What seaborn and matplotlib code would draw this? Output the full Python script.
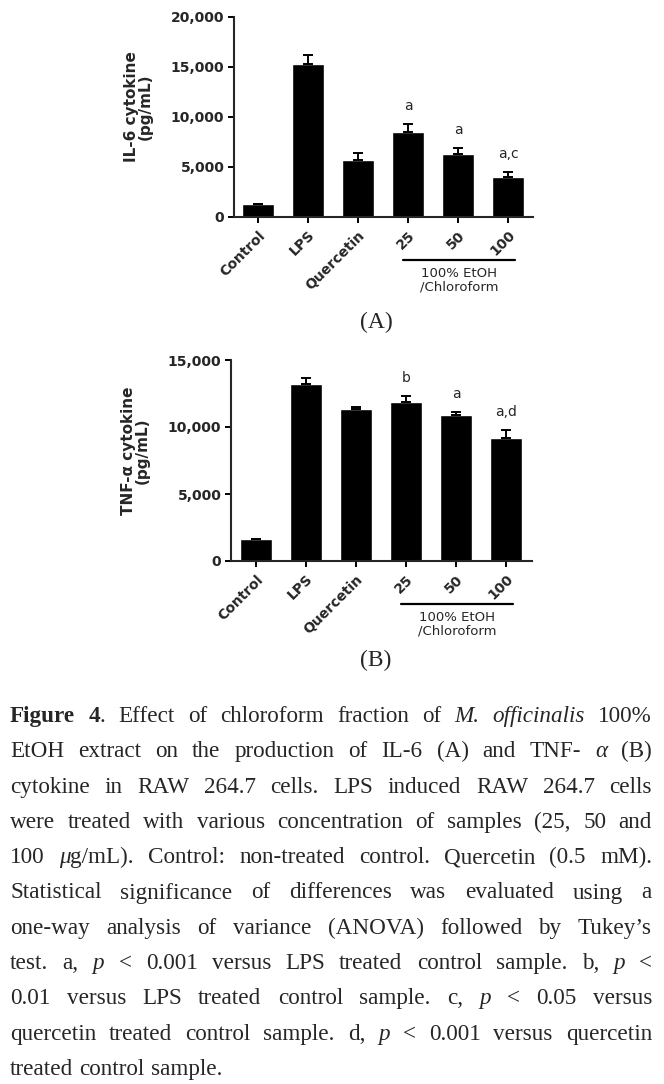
import re
import numpy as np
import pandas as pd
import matplotlib
matplotlib.use("Agg")
import matplotlib.pyplot as plt
import matplotlib.transforms as mtransforms
from matplotlib.ticker import FuncFormatter
import seaborn as sns

# values (mean and upper error bar)
groups = ["Control", "LPS", "Quercetin", "25", "50", "100"]
il6_mean = [1270, 15350, 5700, 8550, 6280, 3990]
il6_err = [60, 900, 750, 730, 600, 500]
il6_marks = ["", "", "", "a", "a", "a,c"]
tnf_mean = [1620, 13200, 11310, 11840, 10860, 9150]
tnf_err = [40, 480, 200, 470, 280, 600]
tnf_marks = ["", "", "", "b", "a", "a,d"]
il6_ticks = [0, 5000, 10000, 15000, 20000]
tnf_ticks = [0, 5000, 10000, 15000]
group_label = "100% EtOH\n/Chloroform"

caption_lines = [
    "**Figure** **4**. Effect of chloroform fraction of *M.* *officinalis* 100%",
    "EtOH extract on the production of IL-6 (A) and TNF- *α* (B)",
    "cytokine in RAW 264.7 cells. LPS induced RAW 264.7 cells",
    "were treated with various concentration of samples (25, 50 and",
    "100 *μ*g/mL). Control: non-treated control. Quercetin (0.5 mM).",
    "Statistical significance of differences was evaluated using a",
    "one-way analysis of variance (ANOVA) followed by Tukey’s",
    "test. a, *p* < 0.001 versus LPS treated control sample. b, *p* <",
    "0.01 versus LPS treated control sample. c, *p* < 0.05 versus",
    "quercetin treated control sample. d, *p* < 0.001 versus quercetin",
    "treated control sample.",
]

sns.set_style("ticks")
plt.rcParams["font.family"] = ["DejaVu Sans"]

W, H = 664, 1084
fig = plt.figure(figsize=(W / 100, H / 100), dpi=100)


def panel(rect, means, errs, marks, ticks, ylabel, xlim, tag, tag_y):
    ax = fig.add_axes([rect[0] / W, 1 - rect[3] / H, (rect[1] - rect[0]) / W,
                       (rect[3] - rect[2]) / H])
    df = pd.DataFrame({"group": groups, "value": means})
    sns.barplot(data=df, x="group", y="value", color="black", saturation=1,
                width=0.65, errorbar=None, ax=ax)
    ax.errorbar(np.arange(len(groups)), means, yerr=[np.zeros(len(errs)), errs],
                fmt="none", ecolor="black", elinewidth=1.4, capsize=3.8, capthick=1.4)
    for i, m in enumerate(marks):
        if m:
            ax.annotate(m, (i, means[i] + errs[i]), xytext=(0, 10),
                        textcoords="offset points", ha="center", va="baseline",
                        fontsize=10)
    ax.set_ylim(ticks[0], ticks[-1])
    ax.set_yticks(ticks)
    ax.yaxis.set_major_formatter(FuncFormatter(lambda v, p: f"{int(v):,}"))
    ax.set_xlim(*xlim)
    ax.set_xticks(range(len(groups)))
    ax.set_xticklabels(groups, rotation=45, ha="right", rotation_mode="anchor")
    for lab in ax.get_xticklabels() + ax.get_yticklabels():
        lab.set_fontweight("bold")
        lab.set_fontsize(10)
    ax.tick_params(axis="both", length=4, width=1.4, color="black", pad=3)
    ax.tick_params(axis="x", pad=4)
    ax.set_xlabel("")
    ax.set_ylabel(ylabel, fontweight="bold", fontsize=11, linespacing=0.95)
    ax.yaxis.set_label_coords(-81 / (rect[1] - rect[0]), 0.55)
    sns.despine(ax=ax)
    for s in ["left", "bottom"]:
        ax.spines[s].set_linewidth(1.5)
    # bracket under the extract concentrations
    tr = mtransforms.blended_transform_factory(ax.transData, ax.transAxes)
    x0, x1 = 3 - 0.1, len(groups) - 1 + 0.14
    ax.plot([x0, x1], [-0.215, -0.215], color="black", lw=1.6,
            transform=tr, clip_on=False)
    ax.text((x0 + x1) / 2, -0.25, group_label, transform=tr, ha="center",
            va="top", fontsize=9.5, linespacing=1.05)
    fig.text(376 / W, 1 - tag_y / H, tag, ha="center", va="center",
             family="Liberation Serif", fontsize=17)
    return ax


panel((234, 533, 17, 217), il6_mean, il6_err, il6_marks, il6_ticks,
      "IL-6 cytokine\n(pg/mL)", (-0.48, 5.5), "(A)", 322)
panel((231, 532, 360, 561), tnf_mean, tnf_err, tnf_marks, tnf_ticks,
      "TNF-α cytokine\n(pg/mL)", (-0.5, 5.52), "(B)", 660)

# justified caption
styles = {"normal": dict(weight="normal", style="normal"),
          "bold": dict(weight="bold", style="normal"),
          "italic": dict(weight="normal", style="italic")}


def parse_word(w):
    runs = []
    for part in re.split(r"(\*\*[^*]+\*\*|\*[^*]+\*)", w):
        if not part:
            continue
        if part.startswith("**"):
            runs.append((part[2:-2], "bold"))
        elif part.startswith("*"):
            runs.append((part[1:-1], "italic"))
        else:
            runs.append((part, "normal"))
    return runs


renderer = fig.canvas.get_renderer()
left, right = 10, 652
base0, step = 722, 35.3
for li, line in enumerate(caption_lines):
    y = 1 - (base0 + li * step) / H
    words = []
    for w in line.split(" "):
        items = []
        for txt, st in parse_word(w):
            t = fig.text(0, y, txt, va="baseline", ha="left",
                         family="Liberation Serif", fontsize=16.7, **styles[st])
            items.append((t, t.get_window_extent(renderer).width))
        words.append(items)
    widths = [sum(wd for _, wd in items) for items in words]
    last = li == len(caption_lines) - 1
    gap = 6 if last or len(words) < 2 else (right - left - sum(widths)) / (len(words) - 1)
    x = left
    for items, wsum in zip(words, widths):
        xx = x
        for t, wd in items:
            t.set_x(xx / W)
            xx += wd
        x += wsum + gap

fig.savefig("out.png", dpi=100)
